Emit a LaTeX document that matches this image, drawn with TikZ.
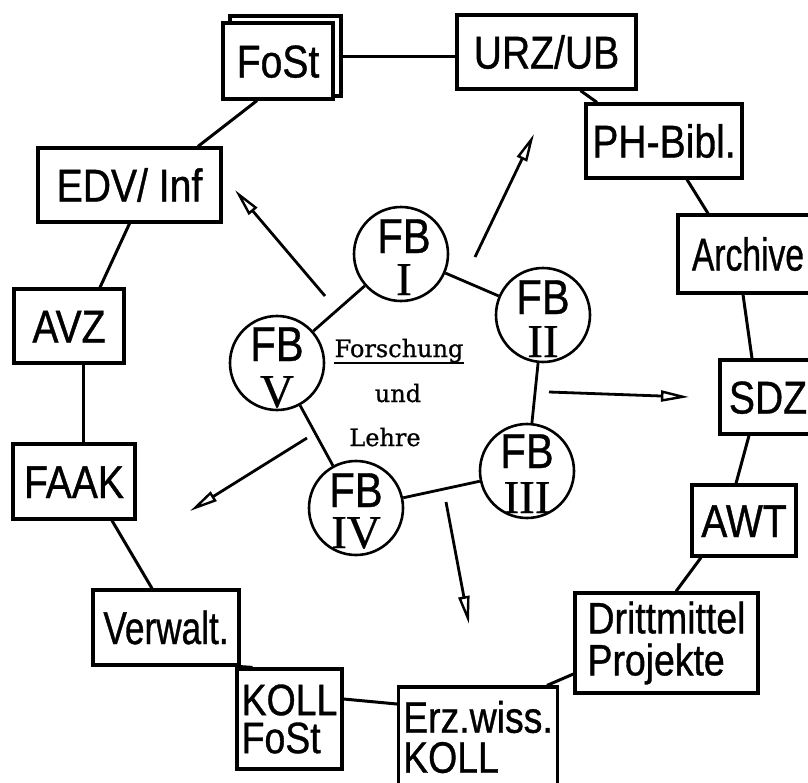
\documentclass[tikz,border=0pt]{standalone}
\usepackage{fontspec}
\usetikzlibrary{arrows.meta}
\newfontfamily\boxfont[FakeStretch=0.85,FakeBold=0.8]{Liberation Sans}
\newfontfamily\numfont[FakeBold=0.6]{Liberation Serif}
\newfontfamily\midfont[FakeBold=0.8]{DejaVu Serif}
\begin{document}
\begin{tikzpicture}[x=1pt,y=-1pt,
  box/.style={draw, line width=3.2pt, fill=white, inner sep=0pt, font=\boxfont\fontsize{46}{40}\selectfont},
  one/.style={text height=33pt, text depth=0pt},
  two/.style={align=left},
  fbc/.style={circle, draw, line width=2.6pt, minimum size=94pt, inner sep=0pt},
  fbt/.style={anchor=base, inner sep=0pt, text height=35pt, text depth=0pt, font=\boxfont\fontsize{49}{49}\selectfont},
  numt/.style={anchor=base, inner sep=0pt, text height=31pt, text depth=0pt, font=\numfont\fontsize{47}{47}\selectfont},
  conn/.style={line width=3pt},
  ring/.style={line width=2.8pt},
  arr/.style={line width=2.8pt, -{Triangle[open, length=28pt, width=11pt, line width=2.4pt]}},
  midt/.style={inner sep=0pt, anchor=base, font=\midfont\fontsize{24}{24}\selectfont}
]
\useasboundingbox (0,0) rectangle (808,782);
\clip (0,0) rectangle (808,782);

% outer boxes
\node[box, minimum width=111pt, minimum height=80pt] (fostback) at (285.5,56) {};
\node[box, one, minimum width=110pt, minimum height=76pt] (fost) at (278,61) {FoSt};
\node[box, one, minimum width=179pt, minimum height=74pt] (urz) at (546.5,52) {URZ/UB};
\node[box, one, minimum width=156pt, minimum height=74pt] (ph) at (664,141) {PH-Bibl.};
\node[box, one, minimum width=140pt, minimum height=78pt] (archive) at (748,254) {\scalebox{0.86}[1]{Archive}};
\node[box, one, minimum width=96pt, minimum height=74pt] (sdz) at (768,397) {SDZ};
\node[box, one, minimum width=104pt, minimum height=71pt] (awt) at (744,520.5) {AWT};
\node[box, two, minimum width=183pt, minimum height=100pt, font=\boxfont\fontsize{44}{42}\selectfont] (dritt) at (666.5,643) {Drittmittel\\Projekte};
\node[box, two, minimum width=159pt, minimum height=100pt, font=\boxfont\fontsize{44}{40}\selectfont] (erz) at (478,737) {Erz.wiss.\\KOLL};
\node[box, two, minimum width=105pt, minimum height=100pt, font=\boxfont\fontsize{44}{38}\selectfont] (koll) at (289.5,719) {KOLL\\FoSt};
\node[box, one, minimum width=146pt, minimum height=75pt] (verwalt) at (166,627.5) {\scalebox{0.9}[1]{Verwalt.}};
\node[box, one, minimum width=122pt, minimum height=75pt] (faak) at (74,481.5) {FAAK};
\node[box, one, minimum width=110pt, minimum height=74pt] (avz) at (69,326) {AVZ};
\node[box, one, minimum width=183pt, minimum height=74pt] (edv) at (129.5,185) {EDV/ Inf};

% outer ring connectors
\draw[conn] (fostback.east) -- (fostback.east -| urz.west);
\draw[conn] ([xshift=34pt]urz.south) -- ([xshift=-67pt]ph.north);
\draw[conn] ([xshift=23pt]ph.south) -- ([xshift=-40pt]archive.north);
\draw[conn] ([xshift=-5pt]archive.south) -- ([xshift=-16pt]sdz.north);
\draw[conn] ([xshift=-19pt]sdz.south) -- ([xshift=-8pt]awt.north);
\draw[conn] ([xshift=-43pt]awt.south) -- ([xshift=9.5pt]dritt.north);
\draw[conn] ([yshift=-31pt]dritt.west) -- ([xshift=69pt]erz.north);
\draw[conn] ([yshift=20pt]koll.east) -- ([yshift=33pt]erz.west);
\draw[conn] (verwalt.south east) -- ([xshift=-37pt]koll.north);
\draw[conn] ([xshift=38pt]faak.south) -- ([xshift=-14pt]verwalt.north);
\draw[conn] ([xshift=14pt]avz.south) -- ([xshift=14pt]avz.south |- faak.north);
\draw[conn] (edv.south) -- ([xshift=31pt]avz.north);
\draw[conn] ([xshift=-21pt]fost.south) -- ([xshift=68.5pt]edv.north);

% FB circles
\node[fbc] (fb1) at (401,254) {};
\node[fbc] (fb2) at (543,315) {};
\node[fbc] (fb3) at (527,471) {};
\node[fbc] (fb4) at (356,508) {};
\node[fbc] (fb5) at (277,363) {};

\node[fbt] (fb1a) at ([xshift=3pt,yshift=1pt]fb1.center) {FB};
\node[numt] (fb1b) at ([xshift=3pt,yshift=-41pt]fb1.center) {I};
\node[fbt] (fb2a) at ([yshift=1pt]fb2.center) {FB};
\node[numt] (fb2b) at ([yshift=-42pt]fb2.center) {II};
\node[fbt] (fb3a) at ([yshift=3pt]fb3.center) {FB};
\node[numt] (fb3b) at ([yshift=-42pt]fb3.center) {III};
\node[fbt] (fb4a) at ([yshift=1pt]fb4.center) {FB};
\node[numt] (fb4b) at ([yshift=-40pt]fb4.center) {IV};
\node[fbt] (fb5a) at ([yshift=2pt]fb5.center) {FB};
\node[numt] (fb5b) at ([yshift=-44pt]fb5.center) {V};

\draw[ring] (fb1) -- (fb2);
\draw[ring] (fb2) -- (fb3);
\draw[ring] (fb3) -- (fb4);
\draw[ring] (fb4) -- (fb5);
\draw[ring] (fb5) -- (fb1);

% centre text
\node[midt] (forsch) at (399,357) {Forschung};
\draw[line width=1.8pt] ([yshift=-6pt]forsch.base west) -- ([yshift=-6pt]forsch.base east);
\node[midt] (und) at (398,402) {und};
\node[midt] (lehre) at (385,446) {Lehre};

% arrows
\coordinate (a1s) at (325,296); \coordinate (a1e) at (235,190);
\coordinate (a2s) at (475,257); \coordinate (a2e) at (534,134);
\coordinate (a3s) at (549,392); \coordinate (a3e) at (689,397);
\coordinate (a4s) at (446,502); \coordinate (a4e) at (469,624);
\coordinate (a5s) at (307,438); \coordinate (a5e) at (190,511);
\draw[arr] (a1s) -- (a1e);
\draw[arr] (a2s) -- (a2e);
\draw[arr] (a3s) -- (a3e);
\draw[arr] (a4s) -- (a4e);
\draw[arr] (a5s) -- (a5e);
\end{tikzpicture}
\end{document}
